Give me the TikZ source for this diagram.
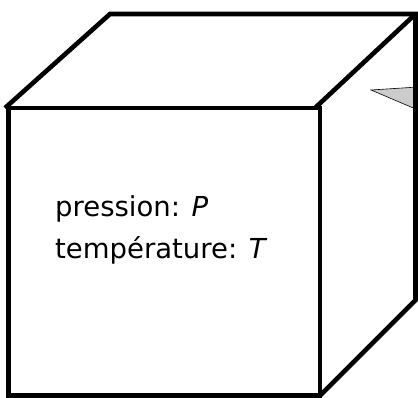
\documentclass[tikz,border=0pt]{standalone}
\usepackage{fontspec}
\setmainfont{DejaVu Sans}
\begin{document}
\begin{tikzpicture}[x=1pt,y=-1pt,
  edge/.style={line width=4.6pt,line join=miter,line cap=butt},
  lbl/.style={anchor=base west,inner sep=0pt,font=\fontsize{27.5}{33}\selectfont}]
\useasboundingbox (0,0) rectangle (418,398);
% points
\coordinate (ftl) at (8.5,108);
\coordinate (ftr) at (320,108);
\coordinate (fbr) at (320,395.5);
\coordinate (fbl) at (8.5,395.5);
\coordinate (btl) at (110,14);
\coordinate (btr) at (415.5,14);
\coordinate (bbr) at (415.5,300);
% pointer
\coordinate (p1) at (371,90);
\coordinate (p2) at (418,87);
\coordinate (p3) at (418,110);
\filldraw[fill=black!20,draw=black,line width=0.6pt] (p1) -- (p2) -- (p3) -- cycle;
% cube
\draw[edge] (ftl) -- (ftr) -- (fbr) -- (fbl) -- cycle;
\draw[edge] (5,108) -- (btl) -- (btr) -- (bbr) -- (fbr);
\draw[edge] (315,108) -- (btr);
\node[lbl] (p) at (55,216.5) {pression: \textit{P}};
\node[lbl] (t) at (55,258.5) {température: \textit{T}};
\end{tikzpicture}
\end{document}
